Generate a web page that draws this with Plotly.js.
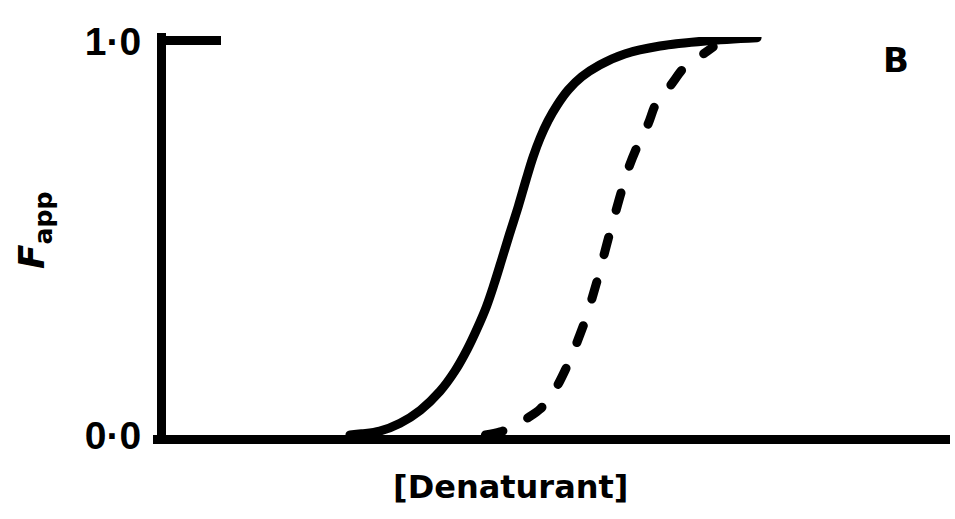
<!DOCTYPE html>
<html>
<head>
<meta charset="utf-8">
<script src="https://cdn.plot.ly/plotly-3.0.1.min.js"></script>
<style>
  html, body { margin: 0; padding: 0; background: #fff; }
  #chart { width: 955px; height: 519px; }
  .scatterlayer path { stroke-linecap: round !important; stroke-linejoin: round !important; }
  path.xlines-above, path.ylines-above, path.ytick { stroke-linecap: square; }
</style>
</head>
<body>
<div id="chart"></div>
<script>
// Denaturant concentration (arbitrary units) and apparent fraction unfolded (F_app)
const solidX = [2.40, 2.55, 2.78, 3.04, 3.30, 3.55, 3.74, 3.90, 4.02, 4.14, 4.24, 4.34, 4.44, 4.55, 4.65, 4.74, 4.83, 4.93, 5.05, 5.19, 5.36, 5.59, 5.91, 6.36, 6.94, 7.60];
const solidY = [0.000, 0.003, 0.010, 0.030, 0.063, 0.111, 0.162, 0.218, 0.268, 0.324, 0.382, 0.446, 0.511, 0.580, 0.648, 0.706, 0.754, 0.797, 0.838, 0.876, 0.909, 0.939, 0.967, 0.987, 1.000, 1.008];

const dashX = [4.13, 4.32, 4.51, 4.67, 4.83, 4.96, 5.06, 5.15, 5.24, 5.33, 5.42, 5.50, 5.59, 5.68, 5.77, 5.86, 5.96, 6.08, 6.21, 6.31, 6.49, 6.69, 6.90, 7.04];
const dashY = [0.000, 0.008, 0.023, 0.043, 0.066, 0.096, 0.129, 0.165, 0.205, 0.251, 0.299, 0.352, 0.415, 0.484, 0.549, 0.613, 0.678, 0.737, 0.790, 0.841, 0.886, 0.937, 0.965, 0.985];

const yTickVals = [0, 1];
const yTickText = ['0·0', '1·0'];
const xLabel = '[Denaturant]';
const yLabel = '<i>F</i><sub>app</sub>';
const panelLabel = 'B';

const traces = [
  { x: solidX, y: solidY, mode: 'lines', type: 'scatter',
    line: { color: '#000', width: 9, shape: 'spline', smoothing: 1 }, hoverinfo: 'skip' },
  { x: dashX, y: dashY, mode: 'lines', type: 'scatter',
    line: { color: '#000', width: 9, shape: 'spline', smoothing: 1, dash: '18px,28px' }, hoverinfo: 'skip' }
];

const layout = {
  width: 955, height: 519,
  margin: { l: 166, r: 10, t: 37, b: 84 },
  paper_bgcolor: '#fff', plot_bgcolor: '#fff',
  showlegend: false,
  xaxis: {
    range: [0.051, 10], showgrid: false, zeroline: false,
    showline: true, linecolor: '#000', linewidth: 9,
    ticks: '', showticklabels: false, fixedrange: true
  },
  yaxis: {
    range: [0, 1.01], showgrid: false, zeroline: false,
    showline: true, linecolor: '#000', linewidth: 9,
    tickmode: 'array', tickvals: yTickVals, ticktext: yTickText,
    ticks: 'inside', ticklen: 50, tickwidth: 9, tickcolor: '#000',
    ticklabelstandoff: 8,
    tickfont: { family: 'Liberation Sans, Arial, sans-serif', size: 39, color: '#000', weight: 'bold' },
    fixedrange: true
  },
  annotations: [
    { text: xLabel, xref: 'paper', yref: 'paper', x: (510 - 166) / 779, y: (435 - 487) / 398,
      xanchor: 'center', yanchor: 'middle', showarrow: false,
      font: { family: 'DejaVu Sans', size: 32, color: '#000', weight: 'bold' } },
    { text: yLabel, xref: 'paper', yref: 'paper', x: (34 - 166) / 779, y: (435 - 230) / 398,
      xanchor: 'center', yanchor: 'middle', showarrow: false, textangle: -90,
      font: { family: 'DejaVu Sans', size: 36, color: '#000', weight: 'bold' } },
    { text: panelLabel, xref: 'paper', yref: 'paper', x: (896 - 166) / 779, y: (435 - 60) / 398,
      xanchor: 'center', yanchor: 'middle', showarrow: false,
      font: { family: 'DejaVu Sans', size: 34, color: '#000', weight: 'bold' } }
  ]
};

Plotly.newPlot('chart', traces, layout, { displayModeBar: false, staticPlot: true });
</script>
</body>
</html>
